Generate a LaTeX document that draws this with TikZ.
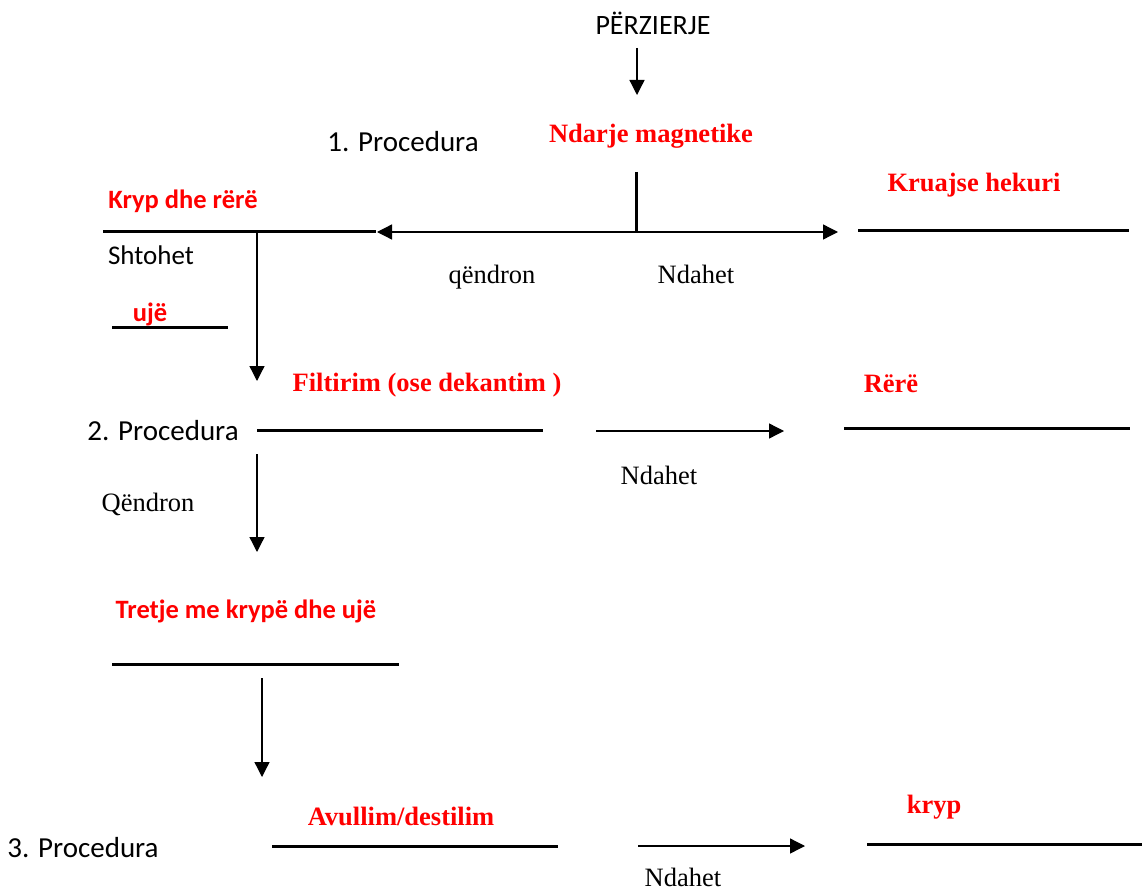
\documentclass[tikz,border=0pt]{standalone}
\usepackage{fontspec}
\setmainfont{Liberation Serif}
\setsansfont{Carlito}
\usetikzlibrary{arrows.meta}

\begin{document}
\begin{tikzpicture}[->, >={Triangle[length=15pt,width=15pt]}, x=1pt, y=-1pt, line width=1.3pt]
    \tikzstyle{proc} = [font=\sffamily\fontsize{29}{34}\selectfont, inner sep=0pt, anchor=base]
    \tikzstyle{sans} = [font=\sffamily\fontsize{27}{32}\selectfont, inner sep=0pt, anchor=base]
    \tikzstyle{plain} = [font=\fontsize{26.5}{31}\selectfont, inner sep=0pt, anchor=base]
    \tikzstyle{redserif} = [font=\bfseries\fontsize{26.5}{31}\selectfont, text=red, inner sep=0pt, anchor=base]
    \tikzstyle{redsans} = [font=\sffamily\bfseries\fontsize{26.5}{31}\selectfont, text=red, inner sep=0pt, anchor=base]
    \tikzstyle{bar} = [-, line width=3pt]

    \useasboundingbox (0,0) rectangle (1142,893);

    % labels
    \node[sans, font=\sffamily\fontsize{28}{33}\selectfont] (mix) at (653,35) {PËRZIERJE};
    \node[proc] (proc1) at (403,152) {1. Procedura};
    \node[redserif] (magn) at (651,143) {Ndarje magnetike};
    \node[redserif] (iron) at (974,192) {Kruajse hekuri};
    \node[redsans] (saltsand) at (183,209) {Kryp dhe rërë};
    \node[sans] (add) at (151,265) {Shtohet};
    \node[redsans] (water) at (150,321) {ujë};
    \node[plain] (stay1) at (492,283) {qëndron};
    \node[plain] (sep1) at (696,283) {Ndahet};
    \node[redserif] (filt) at (427,391) {Filtirim (ose dekantim )};
    \node[redserif] (sand) at (891,392) {Rërë};
    \node[proc] (proc2) at (163,440) {2. Procedura};
    \node[plain] (sep2) at (659,484) {Ndahet};
    \node[plain] (stay2) at (148,511) {Qëndron};
    \node[redsans] (dissolve) at (246,618) {Tretje me krypë dhe ujë};
    \node[redserif] (evap) at (401,825) {Avullim/destilim};
    \node[redserif] (salt) at (934,813) {kryp};
    \node[proc] (proc3) at (83,857) {3. Procedura};
    \node[plain] (sep3) at (683,886) {Ndahet};

    % line ends
    \coordinate (mixA) at (637,48);    \coordinate (mixB) at (637,95);
    \coordinate (magA) at (636,172);   \coordinate (magB) at (636,232);
    \coordinate (leftTip) at (377,232); \coordinate (rightTip) at (838,232);
    \coordinate (ssA) at (103,232);    \coordinate (ssB) at (376,232);
    \coordinate (ssDown) at (257,232); \coordinate (ssTip) at (257,381);
    \coordinate (wA) at (112,327);     \coordinate (wB) at (228,327);
    \coordinate (irA) at (858,231);    \coordinate (irB) at (1129,231);
    \coordinate (fA) at (257,430);     \coordinate (fB) at (543,430);
    \coordinate (f2A) at (596,431);    \coordinate (f2B) at (784,431);
    \coordinate (sdA) at (844,428);    \coordinate (sdB) at (1130,428);
    \coordinate (qA) at (257,454);     \coordinate (qB) at (257,552);
    \coordinate (tA) at (112,664);     \coordinate (tB) at (399,664);
    \coordinate (t2A) at (262,678);    \coordinate (t2B) at (262,777);
    \coordinate (aA) at (272,846);     \coordinate (aB) at (558,846);
    \coordinate (a2A) at (638,846);    \coordinate (a2B) at (805,846);
    \coordinate (kA) at (867,844);     \coordinate (kB) at (1142,844);

    % bars
    \draw[bar] (magA) -- (magB);
    \draw[bar] (ssA) -- (ssB);
    \draw[bar] (wA) -- (wB);
    \draw[bar] (irA) -- (irB);
    \draw[bar] (fA) -- (fB);
    \draw[bar] (sdA) -- (sdB);
    \draw[bar] (tA) -- (tB);
    \draw[bar] (aA) -- (aB);
    \draw[bar] (kA) -- (kB);

    % arrows
    \draw (mixA) -- (mixB);
    \draw (magB) -- (leftTip);
    \draw (magB) -- (rightTip);
    \draw (ssDown) -- (ssTip);
    \draw (f2A) -- (f2B);
    \draw (qA) -- (qB);
    \draw (t2A) -- (t2B);
    \draw (a2A) -- (a2B);
\end{tikzpicture}
\end{document}
